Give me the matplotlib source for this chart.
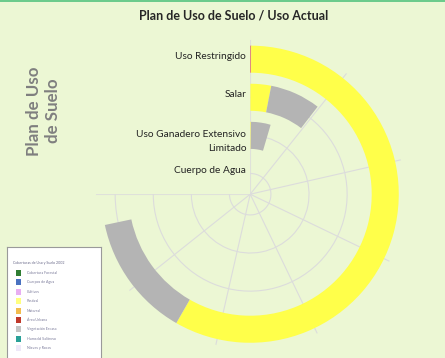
import numpy as np
import matplotlib
matplotlib.use('Agg')
import matplotlib.pyplot as plt
from matplotlib.transforms import offset_copy
from matplotlib.patches import Rectangle

plt.rcParams['font.family'] = ['Lato', 'DejaVu Sans']

# ========================
# datos (escala del eje: 0..70, 270 grados)
# ========================
categorias = ['Cuerpo de Agua', 'Uso Ganadero Extensivo\nLimitado', 'Salar', 'Uso Restringido']
area_urbana = [0.0, 0.0, 0.0, 0.1]
pastizal = [0.0, 0.15, 2.85, 54.3]
veg_escasa = [0.0, 4.1, 6.9, 12.5]
eje_max = 70
ticks_eje = [0, 10, 20, 30, 40, 50, 60, 70]

leyenda_titulo = 'Coberturas de Uso y Suelo 2002'
leyenda_items = ['Cobertura Forestal', 'Cuerpos de Agua', 'Cultivos', 'Pastizal', 'Matorral',
                 'Área Urbana', 'Vegetación Escasa', 'Humedal Salitroso', 'Nieves y Rocas']
leyenda_colores = ['#2f7d32', '#4a72c0', '#e8aef2', '#ffff80', '#f2bd4e',
                   '#c0392b', '#c4c4c4', '#2aa198', '#eee8f8']

fondo = '#ecf7d4'
amarillo = '#ffff4a'
gris = '#b4b4b4'
rojo = '#e05a4f'

fig = plt.figure(figsize=(4.45, 3.58), dpi=100, facecolor=fondo)

# barra verde superior
fig.add_artist(Rectangle((0, 1 - 2 / 358), 1, 2 / 358, transform=fig.transFigure,
                         color='#6ccb8c', lw=0))

ax = fig.add_axes([95.7 / 445, 6.3 / 358, 312 / 445, 312 / 358], projection='polar')
ax.set_facecolor('none')
ax.patch.set_edgecolor('none')
ax.set_theta_zero_location('N')
ax.set_theta_direction(-1)
ax.set_thetamin(0)
ax.set_thetamax(270)

k = 1.5 * np.pi / eje_max  # valor -> radianes
r = np.arange(len(categorias)) + 0.5
alto = 0.71

izq = np.zeros(len(categorias))
for vals, col in [(area_urbana, rojo), (pastizal, amarillo), (veg_escasa, gris)]:
    v = np.array(vals)
    ax.barh(r, v * k, left=izq * k, height=alto, color=col, lw=0, zorder=3)
    izq = izq + v

ax.set_rlim(-0.044, 4.011)
ax.set_rgrids(r, labels=[''] * len(r))
ax.set_thetagrids(np.array(ticks_eje) * (270 / eje_max), labels=[''] * len(ticks_eje))
ax.grid(color='#dcdcdc', lw=0.8)
for s in ax.spines.values():
    s.set_visible(False)
    s.set_color('none')
ax.tick_params(length=0, pad=0)

# etiquetas de categorias a la izquierda del eje
tr1 = offset_copy(ax.transData, fig=fig, x=-4, y=2.5, units='dots')
tr2 = offset_copy(ax.transData, fig=fig, x=-4, y=-6, units='dots')
for ri, lab in zip(r, categorias):
    ax.text(0, ri, lab, transform=tr2 if '\n' in lab else tr1, ha='right', va='center',
            fontsize=7.3, color='#222222', linespacing=1.75, zorder=5)

fig.text(234 / 445, 1 - 16 / 358, 'Plan de Uso de Suelo / Uso Actual', ha='center', va='center',
         fontsize=9, fontweight='bold', color='#262626')
fig.text(43.5 / 445, 1 - 111 / 358, 'Plan de Uso\nde Suelo', ha='center', va='center', rotation=90,
         fontsize=12.2, fontweight='bold', color='#7f7f7f', linespacing=1.25)

# leyenda (imagen pegada en el original)
lax = fig.add_axes([7 / 445, 0, 94 / 445, 111 / 358])
lax.set_xlim(0, 94)
lax.set_ylim(111, 0)
lax.set_facecolor('white')
lax.set_xticks([])
lax.set_yticks([])
for s in lax.spines.values():
    s.set_color('#9a9a9a')
    s.set_linewidth(0.8)
lax.spines['bottom'].set_visible(False)
lax.text(6, 16, leyenda_titulo, fontsize=2.6, color='#6a6a8a', va='center')
for i, (nom, col) in enumerate(zip(leyenda_items, leyenda_colores)):
    yy = 26 + i * 9.4
    lax.add_patch(Rectangle((8.5, yy - 3), 5.5, 6, color=col, lw=0))
    lax.text(20, yy, nom, fontsize=2.6, color='#7a7a9a', va='center')

fig.savefig('out.png', dpi=100, facecolor=fondo)
